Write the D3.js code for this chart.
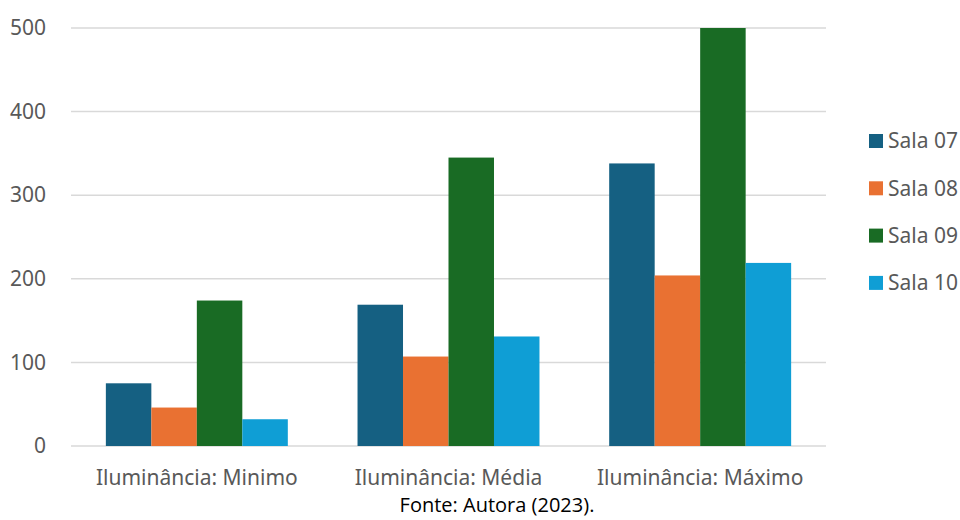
<!DOCTYPE html>
<html>
<head>
<meta charset="utf-8">
<script src="https://cdn.jsdelivr.net/npm/d3@7"></script>
<style>
  body { margin: 0; background: #fff; }
  svg { display: block; }
</style>
</head>
<body>
<div id="chart"></div>
<script>
// data
const categories = ["Iluminância: Minimo", "Iluminância: Média", "Iluminância: Máximo"];
const series = ["Sala 07", "Sala 08", "Sala 09", "Sala 10"];
const sala07 = [75, 169, 338];
const sala08 = [46, 107, 204];
const sala09 = [174, 345, 500];
const sala10 = [32, 131, 219];
const yTicks = [0, 100, 200, 300, 400, 500];

const colors = ["#156082", "#e97132", "#196b24", "#0f9ed5"];
const values = [sala07, sala08, sala09, sala10];

const width = 960, height = 520;
const margin = { left: 71, right: 134, top: 28, bottom: 74 };

const svg = d3.select("#chart").append("svg")
    .attr("width", width)
    .attr("height", height);

const x0 = d3.scaleBand()
    .domain(categories)
    .range([margin.left, width - margin.right])
    .paddingInner(0.277)
    .paddingOuter(0.1385);

const x1 = d3.scaleBand()
    .domain(series)
    .range([0, x0.bandwidth()]);

const y = d3.scaleLinear()
    .domain([0, 500])
    .range([height - margin.bottom, margin.top]);

// gridlines
svg.append("g")
    .selectAll("line")
    .data(yTicks)
    .join("line")
    .attr("x1", margin.left)
    .attr("x2", width - margin.right)
    .attr("y1", d => y(d))
    .attr("y2", d => y(d))
    .attr("stroke", "#d9d9d9")
    .attr("stroke-width", 1.5);

// y axis labels
const yAxis = svg.append("g")
    .attr("transform", `translate(${margin.left - 25},0)`)
    .call(d3.axisLeft(y).tickValues(yTicks).tickSize(0).tickPadding(0));
yAxis.select(".domain").remove();
yAxis.selectAll("text")
    .attr("fill", "#595959")
    .style("font-family", "Noto Sans")
    .style("font-size", "21px");

// bars
const groups = svg.append("g")
    .selectAll("g")
    .data(categories)
    .join("g")
    .attr("transform", d => `translate(${x0(d)},0)`);

groups.selectAll("rect")
    .data((c, i) => series.map((s, j) => ({ s: s, v: values[j][i], c: colors[j] })))
    .join("rect")
    .attr("x", d => x1(d.s))
    .attr("width", x1.bandwidth())
    .attr("y", d => y(d.v))
    .attr("height", d => y(0) - y(d.v))
    .attr("fill", d => d.c);

// x axis labels
const xAxis = svg.append("g")
    .attr("transform", `translate(0,${y(0) + 24})`)
    .call(d3.axisBottom(x0).tickSize(0).tickPadding(0));
xAxis.select(".domain").remove();
xAxis.selectAll("text")
    .attr("fill", "#595959")
    .style("font-family", "Noto Sans")
    .style("font-size", "21px");

// legend
const legend = svg.append("g")
    .attr("transform", "translate(869,141)")
    .selectAll("g")
    .data(series)
    .join("g")
    .attr("transform", (d, i) => `translate(0,${i * 47.3})`);

legend.append("rect")
    .attr("x", 0)
    .attr("y", -7)
    .attr("width", 14)
    .attr("height", 14)
    .attr("fill", (d, i) => colors[i]);

legend.append("text")
    .attr("x", 19)
    .attr("dy", "0.35em")
    .attr("fill", "#595959")
    .style("font-family", "Noto Sans")
    .style("font-size", "21px")
    .text(d => d);

// source line
svg.append("text")
    .attr("x", 497)
    .attr("y", 512)
    .attr("text-anchor", "middle")
    .attr("fill", "#000")
    .style("font-family", "Open Sans")
    .style("font-size", "20px")
    .text("Fonte: Autora (2023).");
</script>
</body>
</html>
